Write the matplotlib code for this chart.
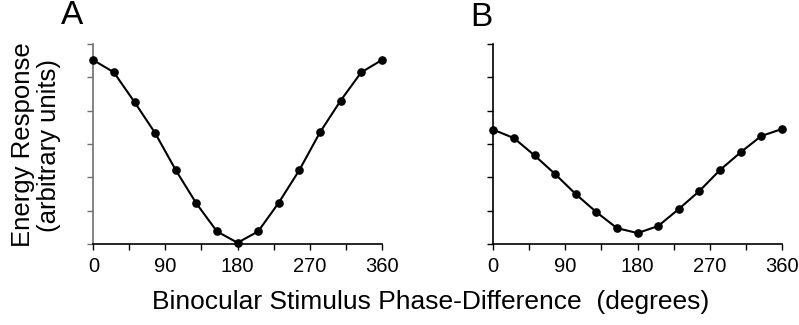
import numpy as np
import matplotlib.pyplot as plt

plt.rcParams['font.family'] = ['Liberation Sans', 'DejaVu Sans']

# phase differences (15 samples over one cycle)
phase = np.linspace(0, 360, 15)

# energy response, panel A and panel B
resp_a = [5.52, 5.15, 4.26, 3.33, 2.22, 1.22, 0.38, 0.04,
          0.38, 1.24, 2.22, 3.35, 4.30, 5.15, 5.52]
resp_b = [3.43, 3.18, 2.66, 2.10, 1.50, 0.96, 0.48, 0.33,
          0.54, 1.05, 1.59, 2.22, 2.75, 3.24, 3.45]

xticks = [0, 90, 180, 270, 360]
panel_names = ['A', 'B']

fig = plt.figure(figsize=(7.99, 3.25), dpi=100)
ax_a = fig.add_axes([0.1168, 0.249, 0.361, 0.6154])
ax_b = fig.add_axes([0.6174, 0.249, 0.361, 0.6154])

for ax, resp, name in zip([ax_a, ax_b], [resp_a, resp_b], panel_names):
    ax.plot(phase, resp, color='black', lw=1.5, marker='o', ms=5.2,
            clip_on=False, zorder=3)
    ax.set_xlim(0, 360)
    ax.set_ylim(0, 6)
    ax.set_xticks(xticks)
    ax.set_xticks(np.arange(45, 360, 90), minor=True)
    ax.set_yticks(np.arange(0, 7))
    ax.set_yticklabels([])
    ax.tick_params(axis='x', which='both', direction='out', length=4,
                   width=1, labelsize=14.5, pad=5)
    ax.tick_params(axis='y', direction='out', length=4, width=1)
    ax.spines['top'].set_visible(False)
    ax.spines['right'].set_visible(False)
    ax.spines['left'].set_linewidth(1.2)
    ax.spines['bottom'].set_linewidth(1.2)

ax_a.spines['left'].set_color('#707070')
ax_a.tick_params(axis='y', color='#707070')

fig.text(61 / 799, 1 - 16 / 325, 'A', fontsize=24, ha='left', va='center')
fig.text(470 / 799, 1 - 17 / 325, 'B', fontsize=24, ha='left', va='center')

fig.text(36 / 799, 1 - 145 / 325, 'Energy Response\n(arbitrary units)',
         rotation=90, ha='center', va='center', fontsize=18.5,
         linespacing=1.1)
fig.text(431 / 799, 1 - 302 / 325,
         'Binocular Stimulus Phase-Difference  (degrees)',
         ha='center', va='center', fontsize=19)

fig.savefig('out.png', dpi=100)
